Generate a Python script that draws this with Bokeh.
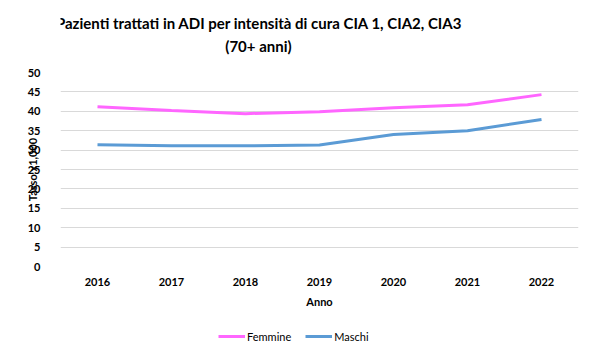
from bokeh.plotting import figure
from bokeh.layouts import column
from bokeh.models import Label, Legend, LegendItem, ColumnDataSource, Range1d, FixedTicker
from bokeh.embed import file_html
from bokeh.resources import INLINE

anni = ["2016", "2017", "2018", "2019", "2020", "2021", "2022"]
femmine = [41.2, 40.2, 39.4, 39.9, 40.9, 41.7, 44.3]
maschi = [31.4, 31.1, 31.1, 31.3, 34.0, 35.0, 37.9]
y_ticks = [0, 5, 10, 15, 20, 25, 30, 35, 40, 45, 50]
titolo = ["Pazienti trattati in ADI per intensità di cura CIA 1, CIA2, CIA3", "(70+ anni)"]

FONT = "Lato"
PINK = "#FF66FF"
BLUE = "#5B9BD5"

# title strip
tt = figure(width=594, height=64, x_range=Range1d(0, 594), y_range=Range1d(0, 64),
            x_axis_type=None, y_axis_type=None, output_backend="svg", toolbar_location=None,
            min_border_left=0, min_border_right=0, min_border_top=0, min_border_bottom=0)
tt.grid.visible = False
tt.outline_line_color = None
tt.border_fill_color = "white"
tt.background_fill_color = "white"
tt.add_layout(Label(x=228, y=42, text=titolo[0], text_align="center", text_baseline="middle",
                    text_font=FONT, text_font_size="15px", text_font_style="bold", text_color="#000000"))
tt.add_layout(Label(x=227, y=19, text=titolo[1], text_align="center", text_baseline="middle",
                    text_font=FONT, text_font_size="15px", text_font_style="bold", text_color="#000000"))

# main chart
p = figure(width=594, height=256, x_range=anni, y_range=Range1d(0, 50),
           output_backend="svg", toolbar_location=None,
           min_border_left=60, min_border_right=16, min_border_top=8, min_border_bottom=54)
p.outline_line_color = None
p.background_fill_color = "white"
p.border_fill_color = "white"

src = ColumnDataSource(dict(anni=anni, femmine=femmine, maschi=maschi))
p.line("anni", "femmine", source=src, line_color=PINK, line_width=3)
p.line("anni", "maschi", source=src, line_color=BLUE, line_width=3)

p.yaxis.ticker = FixedTicker(ticks=y_ticks)
p.ygrid.grid_line_color = "#d9d9d9"
p.xgrid.grid_line_color = None
for ax in (p.xaxis, p.yaxis):
    ax.axis_line_color = None
    ax.major_tick_line_color = None
    ax.minor_tick_line_color = None
    ax.major_label_text_font = FONT
    ax.major_label_text_font_size = "11px"
    ax.major_label_text_font_style = "bold"
    ax.major_label_text_color = "#000000"
    ax.axis_label_text_font = FONT
    ax.axis_label_text_font_size = "11px"
    ax.axis_label_text_font_style = "bold"
    ax.axis_label_text_color = "#000000"

p.xaxis.axis_label = "Anno"
p.xaxis.major_label_standoff = 5
p.xaxis.axis_label_standoff = 6
p.yaxis.axis_label = "Tasso x1,000"
p.yaxis.major_label_standoff = 14
p.yaxis.axis_label_standoff = -14

# legend strip (separate small figure below the chart)
lg = figure(width=594, height=37, x_range=anni, y_range=Range1d(0, 50),
            output_backend="svg", toolbar_location=None,
            min_border_left=0, min_border_right=0, min_border_top=0, min_border_bottom=0)
lg.axis.visible = False
lg.grid.visible = False
lg.outline_line_color = None
lg.border_fill_color = "white"
rf = lg.line("anni", "femmine", source=src, line_color=PINK, line_width=3, visible=False)
rm = lg.line("anni", "maschi", source=src, line_color=BLUE, line_width=3, visible=False)
legend = Legend(items=[LegendItem(label="Femmine", renderers=[rf]),
                       LegendItem(label="Maschi", renderers=[rm])],
                orientation="horizontal", location=(158, 11),
                label_text_font=FONT, label_text_font_size="11px", label_text_color="#000000",
                glyph_width=27, label_standoff=2, spacing=14, border_line_color=None,
                background_fill_alpha=0, inactive_fill_alpha=0, margin=0, padding=0)
lg.add_layout(legend, "center")

layout = column(tt, p, lg, spacing=0)
open("out.html", "w").write(file_html(layout, INLINE))
